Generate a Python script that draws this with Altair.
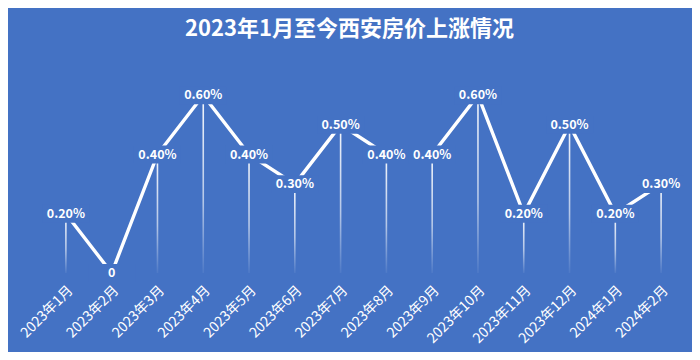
import altair as alt
import pandas as pd

months = ["2023年1月", "2023年2月", "2023年3月", "2023年4月", "2023年5月", "2023年6月",
          "2023年7月", "2023年8月", "2023年9月", "2023年10月", "2023年11月", "2023年12月",
          "2024年1月", "2024年2月"]
values = [0.2, 0.0, 0.4, 0.6, 0.4, 0.3, 0.5, 0.4, 0.4, 0.6, 0.2, 0.5, 0.2, 0.3]
labels = ["0.20%", "0", "0.40%", "0.60%", "0.40%", "0.30%", "0.50%", "0.40%", "0.40%",
          "0.60%", "0.20%", "0.50%", "0.20%", "0.30%"]

BG = "#4472C4"
FONT = "Noto Sans CJK SC"

df = pd.DataFrame({"month": months, "value": values, "label": labels})

x = alt.X("month:N", sort=months, scale=alt.Scale(paddingInner=0, paddingOuter=0),
          axis=alt.Axis(title=None, domain=False, ticks=False, grid=False, labelAngle=-45,
                        labelColor="white", labelFontSize=14, labelFont=FONT,
                        labelPadding=10))
y = alt.Y("value:Q", scale=alt.Scale(domain=[0, 0.8], nice=False, zero=False), axis=None)

base = alt.Chart(df)

drops = base.mark_bar(
    width=1.6,
    color=alt.Gradient(
        gradient="linear", x1=0, x2=0, y1=0, y2=1,
        stops=[alt.GradientStop(offset=0, color="rgba(255,255,255,0.95)"),
               alt.GradientStop(offset=0.6, color="rgba(255,255,255,0.6)"),
               alt.GradientStop(offset=1, color="rgba(255,255,255,0.05)")],
    ),
).encode(x=x, y=y, y2=alt.value(234))

line = base.mark_line(color="white", strokeWidth=3.4).encode(x=x, y=y)

occluder = base.mark_point(
    shape="M-1,-0.38L1,-0.38L1,0.38L-1,0.38Z", filled=True, size=2209,
    color=BG, opacity=1, strokeWidth=0,
).encode(x=x, y=y)

text = base.mark_text(color="white", fontSize=12.5, fontWeight="bold", font=FONT,
                      baseline="middle").encode(x=x, y=y, text="label:N")

chart = alt.layer(drops, line, occluder, text).properties(
    width=641, height=237,
    background=BG,
    padding={"left": 35, "top": 28, "right": 8, "bottom": 79},
    autosize=alt.AutoSizeParams(type="none"),
    title=alt.TitleParams("2023年1月至今西安房价上涨情况", color="white", fontSize=22,
                          font=FONT, fontWeight="bold", anchor="middle", dx=-14, offset=-5),
).configure_view(stroke=None)

chart.save("out.html", embed_options={"renderer": "svg", "actions": False})
